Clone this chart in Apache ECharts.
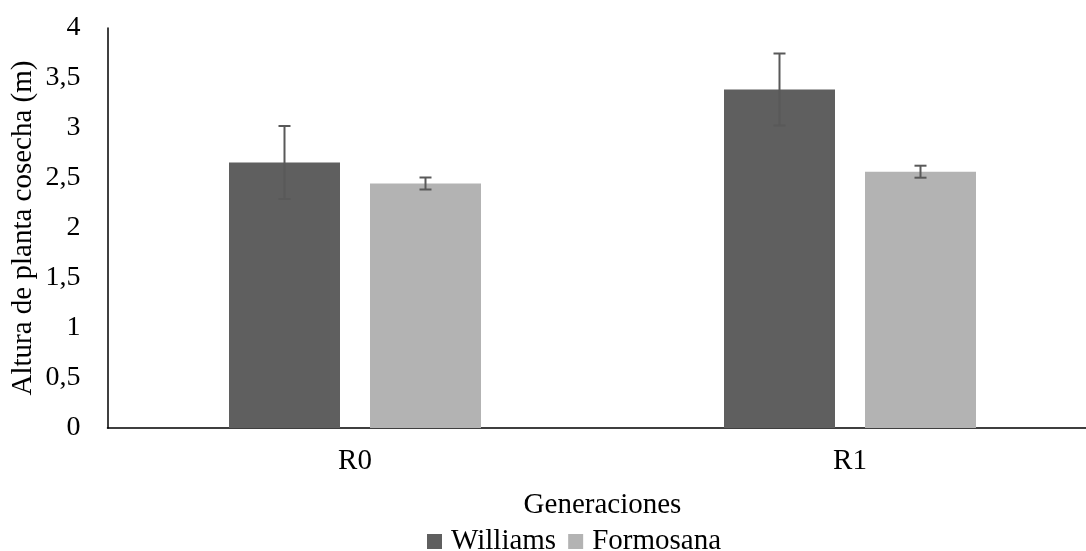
<!DOCTYPE html>
<html>
<head>
<meta charset="utf-8">
<script src="https://cdn.jsdelivr.net/npm/echarts@6/dist/echarts.min.js"></script>
<style>html,body{margin:0;padding:0;background:#fff;}#c{width:1086px;height:551px;}</style>
</head>
<body>
<div id="c"></div>
<script>
var categories = ['R0', 'R1'];
var williams = [2.655, 3.385];
var formosana = [2.445, 2.563];
var williamsErr = [0.365, 0.36];
var formosanaErr = [0.06, 0.06];
var yTicks = [0, 0.5, 1, 1.5, 2, 2.5, 3, 3.5, 4];

var BAR_W = 111, BAR_GAP = 30;
var FONT = 'Liberation Serif';

function errSeries(values, errs, side) {
  var data = values.map(function (v, i) { return [i, v - errs[i], v + errs[i]]; });
  return {
    type: 'custom',
    data: data,
    z: 10,
    silent: true,
    encode: { x: 0, y: [1, 2] },
    renderItem: function (params, api) {
      var off = side * (BAR_W + BAR_GAP) / 2;
      var lo = api.coord([api.value(0), api.value(1)]);
      var hi = api.coord([api.value(0), api.value(2)]);
      var x = lo[0] + off;
      var cap = 6;
      var st = { stroke: '#595959', lineWidth: 2 };
      return {
        type: 'group',
        children: [
          { type: 'line', shape: { x1: x, y1: lo[1], x2: x, y2: hi[1] }, style: st },
          { type: 'line', shape: { x1: x - cap, y1: lo[1], x2: x + cap, y2: lo[1] }, style: st },
          { type: 'line', shape: { x1: x - cap, y1: hi[1], x2: x + cap, y2: hi[1] }, style: st }
        ]
      };
    }
  };
}

var chart = echarts.init(document.getElementById('c'));
chart.setOption({
  animation: false,
  textStyle: { fontFamily: FONT },
  grid: { left: 107.5, width: 990, top: 28, height: 400, containLabel: false, outerBoundsMode: 'none' },
  legend: {
    data: ['Williams', 'Formosana'],
    left: 422, top: 522,
    itemWidth: 15, itemHeight: 15, itemGap: 12,
    icon: 'rect',
    textStyle: { fontFamily: FONT, fontSize: 29, color: '#000', padding: [0, 0, 0, 4] }
  },
  xAxis: {
    type: 'category',
    data: categories,
    name: 'Generaciones',
    nameLocation: 'middle',
    nameGap: 63,
    nameMoveOverlap: false,
    nameTextStyle: { fontFamily: FONT, fontSize: 29, color: '#000' },
    axisLine: { lineStyle: { color: '#000', width: 1.5 } },
    axisTick: { show: false },
    axisLabel: { fontFamily: FONT, fontSize: 29, color: '#000', margin: 19 }
  },
  yAxis: {
    type: 'value',
    min: yTicks[0], max: yTicks[yTicks.length - 1], interval: 0.5,
    name: 'Altura de planta cosecha (m)',
    nameLocation: 'middle',
    nameGap: 70,
    nameMoveOverlap: false,
    nameTextStyle: { fontFamily: FONT, fontSize: 29, color: '#000' },
    axisLine: { show: true, lineStyle: { color: '#000', width: 1.5 } },
    axisTick: { show: false },
    splitLine: { show: false },
    axisLabel: {
      fontFamily: FONT, fontSize: 28, color: '#000', margin: 27,
      formatter: function (v) { return String(v).replace('.', ','); }
    }
  },
  series: [
    { name: 'Williams', type: 'bar', data: williams, barWidth: BAR_W, barGap: (BAR_GAP / BAR_W * 100) + '%',
      itemStyle: { color: '#5f5f5f' } },
    { name: 'Formosana', type: 'bar', data: formosana, barWidth: BAR_W,
      itemStyle: { color: '#b3b3b3' } },
    errSeries(williams, williamsErr, -1),
    errSeries(formosana, formosanaErr, 1)
  ]
});
</script>
</body>
</html>
